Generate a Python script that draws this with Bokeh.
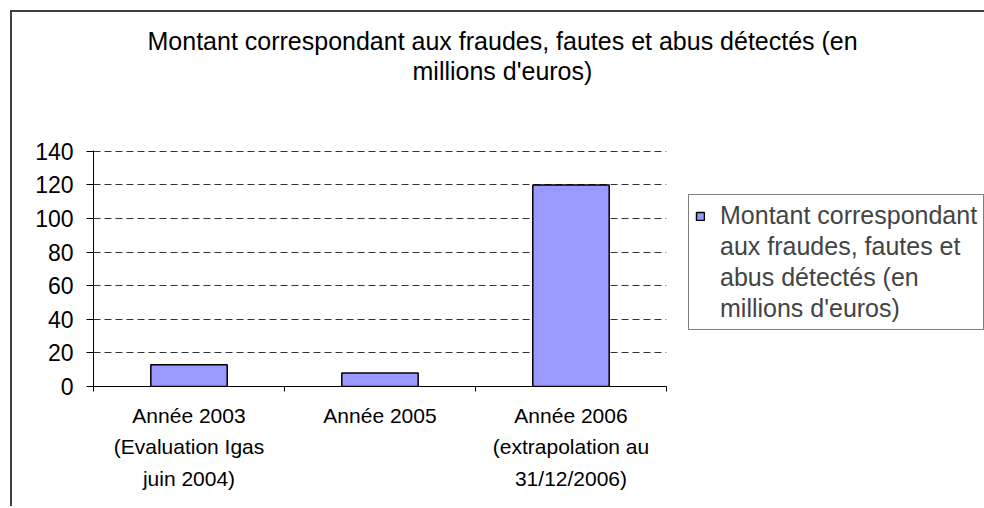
from bokeh.plotting import figure
from bokeh.models import (Range1d, LinearAxis, FixedTicker, Legend,
                          LegendItem, Title, ColumnDataSource)
from bokeh.embed import file_html
from bokeh.resources import INLINE

# ---- data ----
title_lines = ["Montant correspondant aux fraudes, fautes et abus détectés (en",
               "millions d'euros)"]
categories = ["Année 2003\n(Evaluation Igas\njuin 2004)",
              "Année 2005",
              "Année 2006\n(extrapolation au\n31/12/2006)"]
values = [13, 8, 120]
series_lines = ["Montant correspondant", "aux fraudes, fautes et",
                "abus détectés (en", "millions d'euros)"]
y_ticks = [0, 20, 40, 60, 80, 100, 120, 140]

FONT = "Liberation Sans"
n = len(categories)
centers = [i + 0.5 for i in range(n)]          # category slot centres
edges = list(range(n + 1))                      # category slot boundaries

p = figure(x_range=Range1d(0, n), y_range=Range1d(y_ticks[0], y_ticks[-1] + 0.5),
           frame_width=573, frame_height=236,
           min_border_left=81, min_border_right=318, min_border_top=138, min_border_bottom=122,
           output_backend="svg", toolbar_location=None)

p.styles = {"margin-left": "12px", "margin-top": "12px",
            "box-shadow": "-2px -2px 0 0 #404040"}
p.background_fill_color = "white"
p.border_fill_color = "white"
p.outline_line_color = None

src = ColumnDataSource(dict(x=centers, top=values))
bars = p.vbar(x="x", top="top", width=0.40, source=src,
              fill_color="#9999FF", line_color="black", line_width=1.5)
# invisible renderer used only for the continuation lines of the legend label
blank = p.vbar(x=[], top=[], width=0.40, fill_alpha=0, line_alpha=0)

# boundary tick axis (default x axis)
edge_axis = p.xaxis[0]
edge_axis.ticker = FixedTicker(ticks=edges)
edge_axis.major_label_overrides = {e: "" for e in edges}
edge_axis.major_label_text_font_size = "0px"
edge_axis.major_label_standoff = 0
edge_axis.major_tick_out = 5
edge_axis.major_tick_in = 0
edge_axis.minor_tick_line_color = None
edge_axis.axis_line_color = "black"
edge_axis.major_tick_line_color = "black"

# category label axis
cat_axis = LinearAxis(ticker=FixedTicker(ticks=centers),
                      major_label_overrides={c: lab for c, lab in zip(centers, categories)},
                      axis_line_color=None, major_tick_line_color=None,
                      minor_tick_line_color=None,
                      major_tick_out=0, major_tick_in=0,
                      major_label_standoff=12,
                      major_label_text_font=FONT,
                      major_label_text_font_size="21px",
                      major_label_text_color="black",
                      major_label_text_line_height=1.38)
p.add_layout(cat_axis, "below")

yaxis = p.yaxis[0]
yaxis.ticker = FixedTicker(ticks=y_ticks)
yaxis.major_tick_out = 7
yaxis.major_tick_in = 0
yaxis.minor_tick_line_color = None
yaxis.axis_line_color = "black"
yaxis.major_tick_line_color = "black"
yaxis.major_label_standoff = 13
yaxis.major_label_text_font = FONT
yaxis.major_label_text_font_size = "23px"
yaxis.major_label_text_color = "black"

p.xgrid.visible = False
p.ygrid.ticker = FixedTicker(ticks=y_ticks)
p.ygrid.grid_line_color = "#333333"
p.ygrid.grid_line_dash = "7 4"
p.ygrid.grid_line_width = 1

# title: invisible spacer axis next to the frame, then line 2, then line 1 (stacked upward)
spacer = LinearAxis(ticker=FixedTicker(ticks=[edges[0]]),
                    major_label_overrides={edges[0]: ""},
                    major_label_text_font_size="0px",
                    major_tick_out=66, major_tick_in=0,
                    axis_line_color=None, major_tick_line_color=None,
                    minor_tick_line_color=None, major_label_standoff=0)
t2 = Title(text=title_lines[1], align="left", offset=319, standoff=0,
           text_font=FONT, text_font_size="25px", text_font_style="normal",
           text_color="black")
t1 = Title(text=title_lines[0], align="left", offset=54, standoff=0,
           text_font=FONT, text_font_size="25px", text_font_style="normal",
           text_color="black")
p.add_layout(spacer, "above")
p.add_layout(t2, "above")
p.add_layout(t1, "above")

items = [LegendItem(label=series_lines[0], renderers=[bars])]
items += [LegendItem(label=s, renderers=[blank]) for s in series_lines[1:]]
legend = Legend(items=items,
                location=(22, 56), orientation="vertical",
                label_text_font=FONT, label_text_font_size="25px",
                label_standoff=15, label_height=29,
                glyph_width=10, glyph_height=10,
                padding=6, margin=0, spacing=2,
                border_line_color="black", border_line_width=1,
                background_fill_color="white", background_fill_alpha=1)
p.add_layout(legend, "right")

open("out.html", "w").write(file_html(p, INLINE))
